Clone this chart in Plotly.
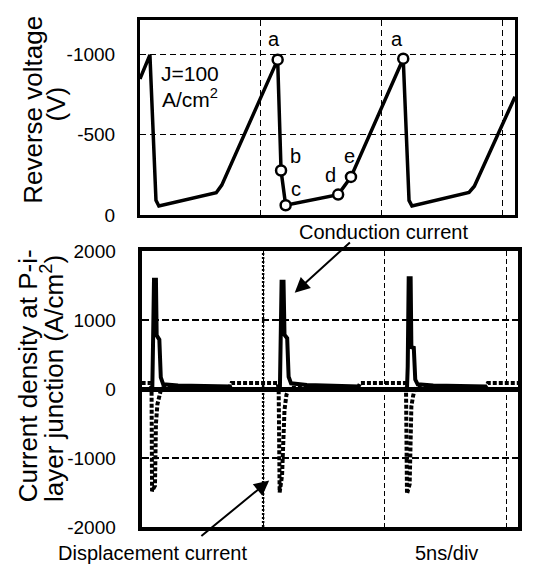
import plotly.graph_objects as go

W, H = 535, 577
FONT = "Liberation Sans, Arial, sans-serif"

# ---------------- data ----------------
# top panel: reverse voltage (time in ns, 5 ns/div)
volt_t = [0.00, 0.41, 0.66, 0.78, 3.15, 3.38, 5.69, 5.83, 6.02, 8.19, 8.72, 10.88, 11.12, 11.24, 13.60, 13.82, 15.50]
volt_v = [-846, -996, -90, -55, -138, -185, -966, -276, -60, -126, -236, -972, -90, -56, -140, -178, -735]

# marked operating points
mark_t = [5.69, 5.83, 6.02, 8.19, 8.72, 10.88]
mark_v = [-966, -276, -60, -126, -236, -972]
mark_lbl = ["a", "b", "c", "d", "e", "a"]

# bottom panel: conduction current density (solid)
cond_t = [0.00, 0.44, 0.47, 0.51, 0.59, 0.62, 0.73, 0.79, 0.89, 1.50, 3.63, 3.68,
          5.69, 5.72, 5.76, 5.84, 5.88, 5.99, 6.05, 6.15, 6.80, 8.90, 8.95,
          10.92, 10.95, 10.99, 11.07, 11.10, 11.20, 11.26, 11.36, 12.00, 14.15, 14.20, 15.50]
cond_j = [0, 0, 650, 1590, 1590, 780, 720, 170, 70, 55, 40, 0,
          0, 790, 1560, 1560, 790, 740, 180, 85, 60, 40, 0,
          0, 330, 1610, 1610, 610, 600, 140, 70, 55, 40, 0, 0]

# bottom panel: displacement current density (dotted)
disp_t = [0.00, 0.38, 0.41, 0.43, 0.55, 0.59, 0.65, 0.72, 0.80, 0.90, 3.60, 3.70,
          5.60, 5.64, 5.68, 5.78, 5.88, 5.96, 6.05, 6.15, 8.90, 9.00,
          10.84, 10.88, 10.92, 11.03, 11.10, 11.17, 11.24, 11.32, 14.15, 14.25, 15.50]
disp_j = [90, 90, 0, -1480, -1400, -500, -220, -120, 0, 20, 20, 90,
          90, 0, -1500, -1250, -300, -80, 0, 20, 20, 90,
          90, 0, -1520, -1380, -250, -100, 0, 20, 20, 90, 90]

x_grid = [5, 10, 15]
y1_ticks = [0, -500, -1000]
y1_text = ["0", "-500", "-1000"]
y2_ticks = [-2000, -1000, 0, 1000, 2000]
y2_text = ["-2000", "-1000", "0", "1000", "2000"]

# ---------------- figure ----------------
fig = go.Figure()
fig.add_trace(go.Scatter(x=volt_t, y=volt_v, mode="lines",
                         line=dict(color="black", width=3.5),
                         xaxis="x", yaxis="y", hoverinfo="skip"))
fig.add_trace(go.Scatter(x=mark_t, y=mark_v, mode="markers",
                         marker=dict(symbol="circle", size=10, color="white",
                                     line=dict(color="black", width=2.5)),
                         xaxis="x", yaxis="y", hoverinfo="skip"))
fig.add_trace(go.Scatter(x=disp_t, y=disp_j, mode="lines",
                         line=dict(color="black", width=4, dash="4px,2px"),
                         xaxis="x2", yaxis="y2", hoverinfo="skip"))
fig.add_trace(go.Scatter(x=cond_t, y=cond_j, mode="lines",
                         line=dict(color="black", width=4),
                         xaxis="x2", yaxis="y2", hoverinfo="skip"))

tickfont = dict(family=FONT, size=19, color="black")

fig.update_layout(
    width=W, height=H,
    margin=dict(l=0, r=0, t=0, b=0),
    paper_bgcolor="white", plot_bgcolor="white",
    showlegend=False,
    font=dict(family=FONT, color="black"),
    xaxis=dict(domain=[140 / W, 515 / W], range=[0, 15.5], anchor="y",
               tickvals=x_grid, showticklabels=False, ticks="",
               showgrid=True, gridcolor="black", gridwidth=1.2, griddash="6px,4px",
               showline=True, linecolor="black", linewidth=3, mirror=True,
               zeroline=False, fixedrange=True),
    yaxis=dict(domain=[1 - 212.6 / H, 1 - 10 / H], range=[0, -1215], anchor="x",
               tickvals=y1_ticks, ticktext=y1_text, tickfont=tickfont, ticks="",
               ticklabelstandoff=18,
               showgrid=True, gridcolor="black", gridwidth=1.2, griddash="6px,4px",
               showline=True, linecolor="black", linewidth=3, mirror=True,
               zeroline=False, fixedrange=True),
    xaxis2=dict(domain=[141.6 / W, 518.3 / W], range=[0, 15.5], anchor="y2",
                tickvals=x_grid, showticklabels=False, ticks="",
                showgrid=True, gridcolor="black", gridwidth=1.2, griddash="5px,3px",
                showline=True, linecolor="black", linewidth=4, mirror=True,
                zeroline=False, fixedrange=True),
    yaxis2=dict(domain=[1 - 536.5 / H, 1 - 250.5 / H], range=[-2000, 2000], anchor="x2",
                tickvals=y2_ticks, ticktext=y2_text, tickfont=tickfont, ticks="",
                ticklabelstandoff=18,
                showgrid=True, gridcolor="black", gridwidth=2, griddash="7px,3px",
                showline=True, linecolor="black", linewidth=4, mirror=True,
                zeroline=True, zerolinecolor="black", zerolinewidth=4.5,
                fixedrange=True),
)

# dotted first vertical gridline in the lower panel
fig.add_shape(type="line", xref="x2", yref="y2 domain", x0=x_grid[0], x1=x_grid[0],
              y0=0, y1=1, line=dict(color="black", width=2.5, dash="2px,2px"), layer="below")

ann = []
# point labels a-e
shifts = [(-3.5, 20.7), (14.8, 14.7), (10.1, 16.4), (-8, 19.2), (-1.3, 21), (-6.6, 19.7)]
for t, v, lbl, (dx, dy) in zip(mark_t, mark_v, mark_lbl, shifts):
    ann.append(dict(x=t, y=v, xref="x", yref="y", text=lbl, showarrow=False,
                    xshift=dx, yshift=dy, font=dict(family=FONT, size=20, color="black")))

def P(px, py):
    return px / W, 1 - py / H

# J=100 A/cm2
ann.append(dict(x=2.05, y=-880, xref="x", yref="y", text="J=100", showarrow=False,
                font=dict(family=FONT, size=21, color="black")))
ann.append(dict(x=2.05, y=-728, xref="x", yref="y", text="A/cm<sup>2</sup>", showarrow=False,
                font=dict(family=FONT, size=21, color="black")))

# axis titles
for txt, (px, py) in [("Reverse voltage", (33, 103.5)), ("(V)", (56, 98)),
                      ("Current density at P-i-", (28, 380)),
                      ("layer junction (A/cm<sup>2</sup>)", (52, 383))]:
    x, y = P(px, py)
    ann.append(dict(x=x, y=y, xref="paper", yref="paper", text=txt, showarrow=False,
                    textangle=-90, xanchor="center", yanchor="middle",
                    font=dict(family=FONT, size=26, color="black")))

# text labels
for txt, (px, py) in [("Conduction current", (383, 230)),
                      ("Displacement current", (152.5, 563)),
                      ("5ns/div", (446.7, 564))]:
    x, y = P(px, py)
    ann.append(dict(x=x, y=y, xref="paper", yref="paper", text=txt, showarrow=False,
                    xanchor="center", yanchor="middle",
                    font=dict(family=FONT, size=20, color="black")))

# arrows
ann.append(dict(x=6.30, y=1401, xref="x2", yref="y2", text="", showarrow=True,
                ax=56.7, ay=-51.6, arrowhead=2, arrowsize=1.5, arrowwidth=2,
                arrowcolor="black"))
ann.append(dict(x=5.25, y=-1326, xref="x2", yref="y2", text="", showarrow=True,
                ax=-69.3, ay=56.7, arrowhead=2, arrowsize=1.5, arrowwidth=2,
                arrowcolor="black"))

fig.update_layout(annotations=ann)
fig.write_html("out.html", config={"displayModeBar": False},
               post_script="document.body.style.margin='0';")
